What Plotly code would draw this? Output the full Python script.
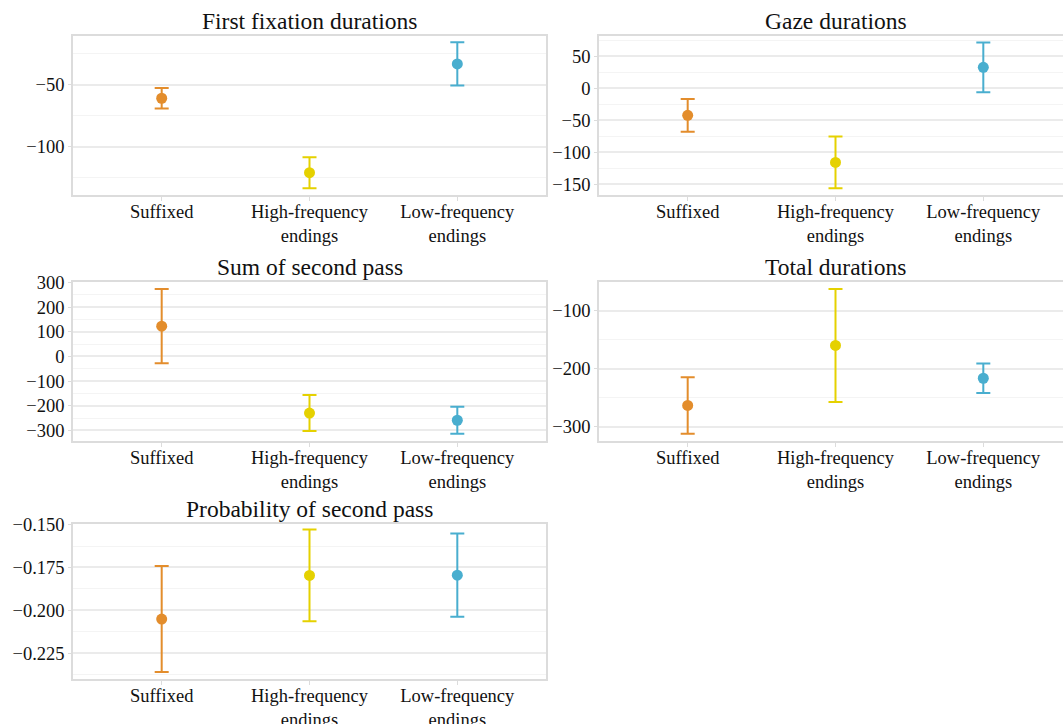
import plotly.graph_objects as go

# Conditions compared against the baseline
categories = ["Suffixed", "High-frequency<br>endings", "Low-frequency<br>endings"]
colors = ["#E38D2C", "#E5D100", "#49AECF"]

# Effect estimates and half-widths of the confidence intervals, per measure
ffd_mean = [-61.0, -120.8, -33.4]
ffd_ci = [8.2, 12.5, 17.3]

gaze_mean = [-42.4, -116.0, 32.7]
gaze_ci = [25.6, 40.5, 39.0]

ssp_mean = [123.0, -229.7, -258.8]
ssp_ci = [151.0, 73.0, 54.8]

total_mean = [-263.7, -160.0, -216.7]
total_ci = [48.8, 97.5, 25.3]

prob_mean = [-0.2050, -0.1796, -0.1795]
prob_ci = [0.0308, 0.0267, 0.0242]

titles = ["First fixation durations", "Gaze durations", "Sum of second pass",
          "Total durations", "Probability of second pass"]

panels = [
    (ffd_mean, ffd_ci, dict(range=[-138.7, -11.0], dtick=50), None),
    (gaze_mean, gaze_ci, dict(range=[-167.0, 81.7], dtick=50), None),
    (ssp_mean, ssp_ci, dict(range=[-343.0, 302.0], dtick=100), None),
    (total_mean, total_ci, dict(range=[-325.0, -50.6], dtick=100), None),
    (prob_mean, prob_ci, dict(range=[-0.2399, -0.1497], dtick=0.025), ".3f"),
]

W, H = 1063, 724
PANEL_W = 473
left_px = (73, 73 + PANEL_W)
right_px = (599, 599 + PANEL_W)   # right column runs past the page edge
rows_px = [(36, 195), (282, 441), (524, 679)]
row_dom = [[1 - b / H, 1 - t / H] for t, b in rows_px]


def x_setup(px):
    lo, hi = px
    dom_hi = min(hi, W)
    # keep the category spacing identical in both columns
    span = 3.2 * (dom_hi - lo) / (hi - lo)
    return [lo / W, dom_hi / W], [-0.6, -0.6 + span], (lo + hi) / 2 / W


cells = [
    (left_px, row_dom[0], True),
    (right_px, row_dom[0], False),
    (left_px, row_dom[1], True),
    (right_px, row_dom[1], False),
    (left_px, row_dom[2], True),
]

FONT = "Liberation Serif, Times New Roman, serif"
INK = "#111111"
LINE = "#DCDCDC"
GRID = "#EBEBEB"
MINOR = "#F4F4F4"
TICK_SIZE = 18.5
TITLE_SIZE = 23.5

fig = go.Figure()
layout = dict(
    width=W, height=H,
    margin=dict(l=0, r=0, t=0, b=0, autoexpand=False),
    paper_bgcolor="white", plot_bgcolor="white",
    showlegend=False,
    font=dict(family=FONT, size=TICK_SIZE, color=INK),
    annotations=[],
)

for i, ((mean, ci, yspec, fmt), (px, yd, mirror_y)) in enumerate(zip(panels, cells)):
    n = i + 1
    xa = "x" if n == 1 else f"x{n}"
    ya = "y" if n == 1 else f"y{n}"
    xd, xr, xmid = x_setup(px)
    for c, m, e, col in zip(categories, mean, ci, colors):
        fig.add_trace(go.Scatter(
            x=[c], y=[m], xaxis=xa, yaxis=ya, mode="markers",
            marker=dict(color=col, size=11),
            error_y=dict(type="data", array=[e], color=col, thickness=2, width=7),
            hoverinfo="x+y",
        ))
    xkey = "xaxis" if n == 1 else f"xaxis{n}"
    ykey = "yaxis" if n == 1 else f"yaxis{n}"
    layout[xkey] = dict(
        domain=xd, anchor=ya, type="category",
        categoryorder="array", categoryarray=categories,
        range=xr, showgrid=False, zeroline=False, automargin=False,
        showline=True, linecolor=LINE, linewidth=1.5, mirror=True,
        ticks="outside", ticklen=4, tickcolor=LINE, ticklabelstandoff=-5,
        tickfont=dict(family=FONT, size=TICK_SIZE, color=INK),
    )
    ydict = dict(
        domain=yd, anchor=xa, range=yspec["range"], dtick=yspec["dtick"],
        tick0=0, showgrid=True, gridcolor=GRID, gridwidth=1.5, zeroline=False,
        automargin=False,
        showline=True, linecolor=LINE, linewidth=1.5, mirror=mirror_y,
        ticks="outside", ticklen=3, tickcolor=LINE,
        tickfont=dict(family=FONT, size=TICK_SIZE, color=INK),
        minor=dict(dtick=yspec["dtick"] / 2, showgrid=True, gridcolor=MINOR,
                   gridwidth=1, ticks=""),
    )
    if fmt:
        ydict["tickformat"] = fmt
    layout[ykey] = ydict
    layout["annotations"].append(dict(
        text=titles[i], xref="paper", yref="paper",
        x=xmid, y=yd[1], xanchor="center", yanchor="bottom", yshift=0,
        showarrow=False, font=dict(family=FONT, size=TITLE_SIZE, color=INK),
    ))

fig.update_layout(**layout)
fig.write_html("out.html")
